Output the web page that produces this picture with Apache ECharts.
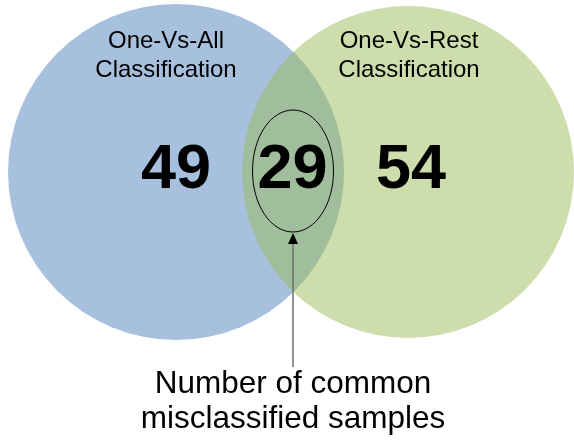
<!DOCTYPE html>
<html>
<head>
<meta charset="utf-8">
<script src="https://cdn.jsdelivr.net/npm/echarts@6/dist/echarts.min.js"></script>
<style>
html,body{margin:0;padding:0;background:#fff;}
#chart{width:574px;height:442px;}
</style>
</head>
<body>
<div id="chart"></div>
<script>
// ---- data ----
const setNames = ['One-Vs-All\nClassification', 'One-Vs-Rest\nClassification'];
const exclusiveCounts = [49, 54];
const commonCount = 29;
const annotationText = 'Number of common\nmisclassified samples';

// ---- layout (axis units = pixels of the 574x442 canvas) ----
const circleLayout = [
  { cx: 176, cy: 172, r: 168, fill: 'rgba(79,129,189,0.5)', labelX: 166, countX: 176 },
  { cx: 408, cy: 172, r: 166, fill: 'rgba(155,187,89,0.5)', labelX: 409, countX: 411 }
];
const countY = 171;
const commonX = 292.5;
const ellipse = { cx: 293, cy: 171, rx: 40.5, ry: 61 };
const FONT = '"Liberation Sans", Arial, sans-serif';

const chart = echarts.init(document.getElementById('chart'), null, { renderer: 'canvas' });

function px(api, x, y) { return api.coord([x, y]); }
function len(api, d) { return api.size([d, d])[0]; }

const circleData = setNames.map((n, i) => [circleLayout[i].cx, circleLayout[i].cy, circleLayout[i].r, i]);

const option = {
  animation: false,
  backgroundColor: '#ffffff',
  grid: { left: 0, right: 0, top: 0, bottom: 0 },
  xAxis: { type: 'value', min: 0, max: 574, show: false },
  yAxis: { type: 'value', min: 0, max: 442, inverse: true, show: false },
  series: [
    {
      type: 'custom',
      coordinateSystem: 'cartesian2d',
      data: circleData,
      silent: true,
      renderItem: function (params, api) {
        const i = api.value(3);
        const c = px(api, api.value(0), api.value(1));
        const r = len(api, api.value(2));
        return {
          type: 'circle',
          shape: { cx: c[0], cy: c[1], r: r },
          style: { fill: circleLayout[i].fill, stroke: null }
        };
      }
    },
    {
      type: 'custom',
      coordinateSystem: 'cartesian2d',
      data: [[0]],
      silent: true,
      z: 5,
      renderItem: function (params, api) {
        const children = [];
        // set labels
        setNames.forEach((name, i) => {
          const lines = name.split('\n');
          lines.forEach((ln, k) => {
            const p = px(api, circleLayout[i].labelX, 41 + k * 29);
            children.push({
              type: 'text', x: p[0], y: p[1],
              style: { text: ln, fill: '#000', font: '24px ' + FONT, align: 'center', verticalAlign: 'middle' }
            });
          });
          const q = px(api, circleLayout[i].countX, countY);
          children.push({
            type: 'text', x: q[0], y: q[1],
            style: { text: String(exclusiveCounts[i]), fill: '#000', font: 'bold 63px ' + FONT, align: 'center', verticalAlign: 'middle' }
          });
        });
        // common count
        const m = px(api, commonX, countY);
        children.push({
          type: 'text', x: m[0], y: m[1],
          style: { text: String(commonCount), fill: '#000', font: 'bold 63px ' + FONT, align: 'center', verticalAlign: 'middle' }
        });
        // ellipse around common count
        const ec = px(api, ellipse.cx, ellipse.cy);
        children.push({
          type: 'ellipse',
          shape: { cx: ec[0], cy: ec[1], rx: len(api, ellipse.rx), ry: len(api, ellipse.ry) },
          style: { fill: null, stroke: '#000', lineWidth: 1 }
        });
        // arrow
        const a0 = px(api, 293, 367);
        const a1 = px(api, 293, 243);
        children.push({
          type: 'line',
          shape: { x1: a0[0], y1: a0[1], x2: a1[0], y2: a1[1] },
          style: { stroke: '#6e6e6e', lineWidth: 1.5 }
        });
        const t = px(api, 293, 233);
        const bl = px(api, 288, 244);
        const br = px(api, 298, 244);
        children.push({
          type: 'polygon',
          shape: { points: [t, bl, br] },
          style: { fill: '#000' }
        });
        // annotation
        annotationText.split('\n').forEach((ln, k) => {
          const p = px(api, 293, 384 + k * 35);
          children.push({
            type: 'text', x: p[0], y: p[1],
            style: { text: ln, fill: '#000', font: '31.5px ' + FONT, align: 'center', verticalAlign: 'middle' }
          });
        });
        return { type: 'group', children: children };
      }
    }
  ]
};
chart.setOption(option);
</script>
</body>
</html>
